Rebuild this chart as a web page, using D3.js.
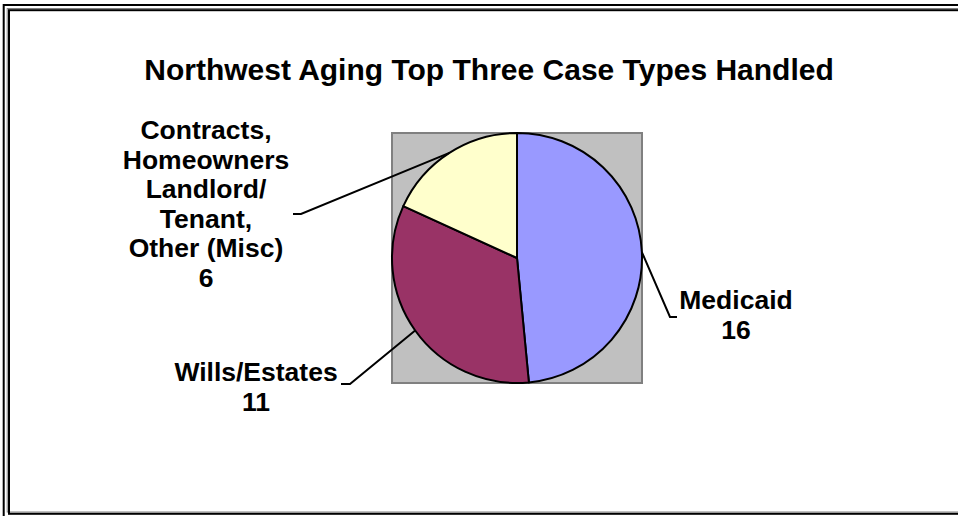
<!DOCTYPE html>
<html>
<head>
<meta charset="utf-8">
<script src="https://cdn.jsdelivr.net/npm/d3@7/dist/d3.min.js"></script>
<style>
  html, body { margin: 0; padding: 0; background: #fff; }
  svg { display: block; }
  text { font-family: Arial, "Liberation Sans", sans-serif; font-weight: bold; fill: #000; }
</style>
</head>
<body>
<svg id="chart" width="958" height="516"></svg>
<script>
// Case types and counts
const categories = ["Medicaid", "Wills/Estates", "Contracts, Homeowners Landlord/ Tenant, Other (Misc)"];
const values = [16, 11, 6];
const labelLines = [
  ["Medicaid"],
  ["Wills/Estates"],
  ["Contracts,", "Homeowners", "Landlord/", "Tenant,", "Other (Misc)"]
];
const colors = ["#9999FF", "#993366", "#FFFFCC"];
const title = "Northwest Aging Top Three Case Types Handled";

const W = 958, H = 516;
const svg = d3.select("#chart");

// Double frame around the chart area
svg.append("rect").attr("x", 3.7).attr("y", 5).attr("width", 1000).attr("height", 1000)
  .attr("fill", "none").attr("stroke", "#000").attr("stroke-width", 2);
svg.append("rect").attr("x", 7.2).attr("y", 8.5).attr("width", 1000).attr("height", 503.5)
  .attr("fill", "none").attr("stroke", "#808080").attr("stroke-width", 1);
svg.append("rect").attr("x", 9).attr("y", 10.2).attr("width", 1000).attr("height", 503.6)
  .attr("fill", "none").attr("stroke", "#000").attr("stroke-width", 2);

// Title
svg.append("text").attr("x", 489).attr("y", 80)
  .attr("text-anchor", "middle").style("font-size", "30px").text(title);

// Plot area
const cx = 517, cy = 258, r = 125;
svg.append("rect").attr("x", cx - r).attr("y", cy - r).attr("width", 2 * r).attr("height", 2 * r)
  .attr("fill", "#C0C0C0").attr("stroke", "#808080").attr("stroke-width", 2);

const pie = d3.pie().sort(null).value(d => d)(values);
const arc = d3.arc().innerRadius(0).outerRadius(r);
const g = svg.append("g").attr("transform", `translate(${cx},${cy})`);

g.selectAll("path.slice").data(pie).join("path")
  .attr("class", "slice")
  .attr("d", arc)
  .attr("fill", (d, i) => colors[i])
  .attr("stroke", "#000").attr("stroke-width", 2).attr("stroke-linejoin", "round");

// Label placement: elbow point of the leader, horizontal tail end, text centre and first baseline
const labelLayout = [
  { elbow: [670, 317], tail: [677, 317], tx: 736, ty: 309 },
  { elbow: [350, 384], tail: [341, 384], tx: 256, ty: 381 },
  { elbow: [301, 214], tail: [293, 214], tx: 206, ty: 139 }
];
const lineGap = 29.5;

pie.forEach((d, i) => {
  const mid = (d.startAngle + d.endAngle) / 2;
  const ex = cx + r * Math.sin(mid), ey = cy - r * Math.cos(mid);
  const L = labelLayout[i];
  svg.append("polyline")
    .attr("points", [[ex, ey], L.elbow, L.tail].map(p => p.join(",")).join(" "))
    .attr("fill", "none").attr("stroke", "#000").attr("stroke-width", 2);

  const t = svg.append("text").attr("text-anchor", "middle").style("font-size", "26.5px");
  const lines = labelLines[i].concat([String(d.data)]);
  lines.forEach((s, k) => {
    t.append("tspan").attr("x", L.tx).attr("y", L.ty + k * lineGap).text(s);
  });
});
</script>
</body>
</html>
